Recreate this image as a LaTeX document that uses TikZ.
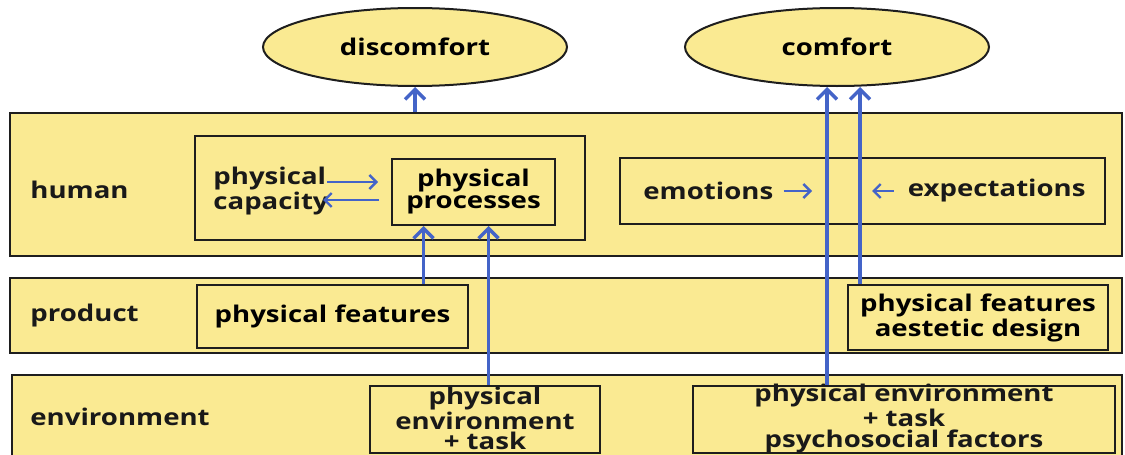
\documentclass[tikz,border=0pt]{standalone}
\usepackage{fontspec}
\setmainfont{Open Sans}[FakeStretch=1.2]
\usetikzlibrary{arrows.meta,shapes.geometric}
\definecolor{boxyellow}{RGB}{250,234,146}
\definecolor{arrowblue}{RGB}{68,100,200}
\definecolor{edgegray}{RGB}{30,30,30}

\begin{document}
\begin{tikzpicture}[
    x=0.5pt, y=-0.5pt,
    font=\fontsize{11.5}{11}\selectfont\bfseries,
    band/.style={rectangle, draw=edgegray, fill=boxyellow, line width=1pt, inner sep=0pt},
    inbox/.style={rectangle, draw=edgegray, fill=boxyellow, line width=1pt, align=center, inner sep=0pt},
    goal/.style={ellipse, draw=edgegray, fill=boxyellow, line width=1pt, inner sep=0pt, minimum width=152pt, minimum height=39pt},
    rowname/.style={anchor=west, inner sep=0pt, text=black!90},
    boxtext/.style={align=center, inner sep=0pt, text=black!90, font=\fontsize{11.5}{10.3}\selectfont\bfseries},
    bigarrow/.style={-{Straight Barb[length=5pt,width=10pt]}, line width=1.75pt, arrowblue},
    smallarrow/.style={-{Straight Barb[length=3.5pt,width=7pt]}, line width=1.2pt, arrowblue}
]
    \clip (0,0) rectangle (1125,455);

    % outcome ellipses
    \node[goal] (dis) at (415,47) {discomfort};
    \node[goal] (com) at (837,47) {comfort};

    % the three layers
    \node[band, minimum width=556pt, minimum height=71.5pt] (human) at (566,184.5) {};
    \node[band, minimum width=556pt, minimum height=37.5pt] (product) at (566,315.5) {};
    \node[band, minimum width=555pt, minimum height=47.5pt] (env) at (567,422.5) {};

    \node[rowname] (humtxt) at (30,190) {human};
    \node[rowname] (prodtxt) at (30,316) {product};
    \node[rowname] (envtxt) at (30,417) {environment};

    % human layer
    \node[inbox, minimum width=195pt, minimum height=52pt] (grp) at (390,188) {};
    \node[inbox, minimum width=81.5pt, minimum height=33pt] (pp) at (473.5,192) {physical\\processes};
    \node[rowname, align=left] (cap) at (213,191) {physical\\capacity};
    \node[inbox, minimum width=242.5pt, minimum height=33pt] (feel) at (862.5,191) {};
    \node[rowname] (emo) at (643,191) {emotions};
    \node[rowname, anchor=east] (expt) at (1086,191) {expectations};
    \coordinate (emotip) at (812,191);
    \coordinate (expttip) at (872,191);

    % product layer
    \node[inbox, minimum width=135.5pt, minimum height=31.5pt] (pf) at (332.5,316.5) {physical features};
    \node[inbox, minimum width=130pt, minimum height=32.5pt] (pfa) at (978,317.5) {physical features\\aestetic design};

    % environment layer
    \node[inbox, minimum width=115pt, minimum height=33.5pt] (env1) at (485,419.5) {};
    \node[boxtext] (env1txt) at ([yshift=0.5pt]env1.center) {physical\\environment\\+ task};
    \node[inbox, minimum width=211pt, minimum height=33.5pt] (env2) at (904,419.5) {};
    \node[boxtext] (env2txt) at ([yshift=0.5pt]env2.center) {physical environment\\+ task\\psychosocial factors};

    % links
    \draw[smallarrow] ([shift={(-64,-10)}]pp.west) -- ([shift={(-13,-10)}]pp.west);
    \draw[smallarrow] ([shift={(-12,8)}]pp.west) -- ([shift={(-68,8)}]pp.west);
    \draw[smallarrow] ([xshift=5pt]emo.east) -- (emotip);
    \draw[smallarrow] ([xshift=-7pt]expt.west) -- (expttip);

    \draw[bigarrow] (dis.south |- human.north) -- (dis.south);
    \draw[bigarrow] ([xshift=-25pt]pp.south |- pf.north) -- ([xshift=-25pt]pp.south);
    \draw[bigarrow] ([xshift=7.5pt]pp.south |- env1.north) -- ([xshift=7.5pt]pp.south);
    \draw[bigarrow] ([xshift=-5pt]com.south |- env2.north) -- ([xshift=-5pt]com.south);
    \draw[bigarrow] ([xshift=11.5pt]com.south |- pfa.north) -- ([xshift=11.5pt]com.south);
\end{tikzpicture}
\end{document}
